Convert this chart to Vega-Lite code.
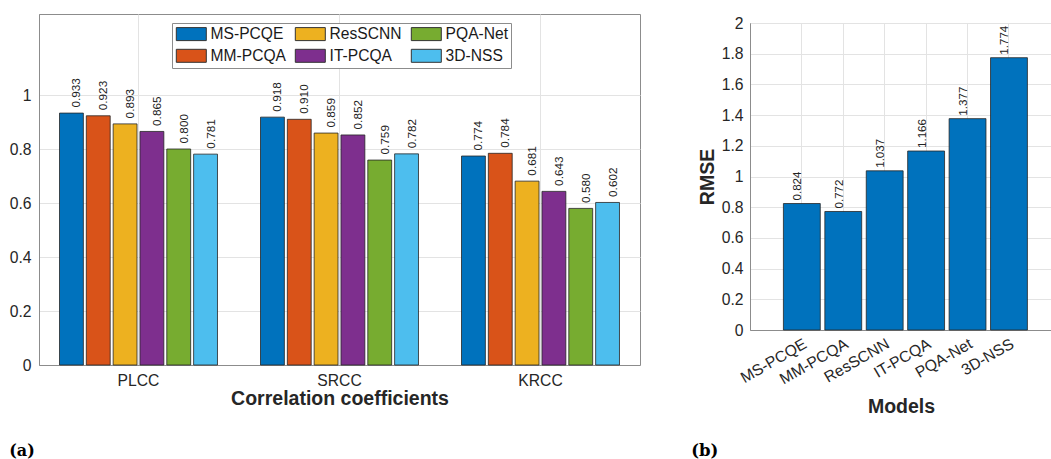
{
  "$schema": "https://vega.github.io/schema/vega-lite/v6.json",
  "background": "white",
  "padding": {"left": 8, "top": 13, "right": 0, "bottom": 0},
  "spacing": 49,
  "config": {
    "font": "Liberation Sans",
    "view": {"stroke": "#8c8c8c", "strokeWidth": 1},
    "axis": {
      "labelFont": "Liberation Sans",
      "labelFontSize": 15.7,
      "labelColor": "#262626",
      "titleFont": "Liberation Sans",
      "titleFontSize": 19.5,
      "titleFontWeight": "bold",
      "titleColor": "#262626",
      "gridColor": "#e3e3e3",
      "gridWidth": 1,
      "domainColor": "#8c8c8c",
      "tickColor": "#555555",
      "ticks": false
    }
  },
  "hconcat": [
    {
      "width": 601,
      "height": 351,
      "title": {"text": "(a)", "orient": "bottom", "anchor": "start", "frame": "bounds", "font": "DejaVu Serif", "fontSize": 16, "fontWeight": "bold", "color": "#000000", "offset": 35},
      "data": {
        "values": [
          {"metric": "PLCC", "model": "MS-PCQE", "value": 0.933},
          {"metric": "PLCC", "model": "MM-PCQA", "value": 0.923},
          {"metric": "PLCC", "model": "ResSCNN", "value": 0.893},
          {"metric": "PLCC", "model": "IT-PCQA", "value": 0.865},
          {"metric": "PLCC", "model": "PQA-Net", "value": 0.800},
          {"metric": "PLCC", "model": "3D-NSS", "value": 0.781},
          {"metric": "SRCC", "model": "MS-PCQE", "value": 0.918},
          {"metric": "SRCC", "model": "MM-PCQA", "value": 0.910},
          {"metric": "SRCC", "model": "ResSCNN", "value": 0.859},
          {"metric": "SRCC", "model": "IT-PCQA", "value": 0.852},
          {"metric": "SRCC", "model": "PQA-Net", "value": 0.759},
          {"metric": "SRCC", "model": "3D-NSS", "value": 0.782},
          {"metric": "KRCC", "model": "MS-PCQE", "value": 0.774},
          {"metric": "KRCC", "model": "MM-PCQA", "value": 0.784},
          {"metric": "KRCC", "model": "ResSCNN", "value": 0.681},
          {"metric": "KRCC", "model": "IT-PCQA", "value": 0.643},
          {"metric": "KRCC", "model": "PQA-Net", "value": 0.580},
          {"metric": "KRCC", "model": "3D-NSS", "value": 0.602}
        ]
      },
      "encoding": {
        "x": {
          "field": "metric", "type": "nominal", "sort": ["PLCC", "SRCC", "KRCC"],
          "scale": {"paddingInner": 0.214, "paddingOuter": 0.102},
          "axis": {"title": "Correlation coefficients", "labelAngle": 0, "grid": true, "bandPosition": 0.5, "labelPadding": 8, "titlePadding": 2}
        },
        "xOffset": {
          "field": "model", "type": "nominal",
          "sort": ["MS-PCQE", "MM-PCQA", "ResSCNN", "IT-PCQA", "PQA-Net", "3D-NSS"],
          "scale": {"paddingInner": 0.11, "paddingOuter": 0}
        },
        "y": {
          "field": "value", "type": "quantitative",
          "scale": {"domain": [0, 1.3], "nice": false, "zero": true},
          "axis": {"title": null, "values": [0, 0.2, 0.4, 0.6, 0.8, 1], "format": "~g", "grid": true, "labelPadding": 8}
        }
      },
      "layer": [
        {
          "mark": {"type": "bar", "stroke": "#262626", "strokeWidth": 0.8},
          "encoding": {
            "color": {
              "field": "model", "type": "nominal",
              "scale": {
                "domain": ["MS-PCQE", "MM-PCQA", "ResSCNN", "IT-PCQA", "PQA-Net", "3D-NSS"],
                "range": ["#0072BD", "#D95319", "#EDB120", "#7E2F8E", "#77AC30", "#4DBEEE"]
              },
              "legend": {
                "orient": "none", "legendX": 133, "legendY": 9,
                "columns": 3, "title": null,
                "symbolType": "M-1,-1H3.615V1H-1Z", "symbolSize": 169,
                "symbolStrokeColor": "#333333", "symbolStrokeWidth": 1, "symbolOpacity": 1,
                "labelFont": "Liberation Sans", "labelFontSize": 15.6, "labelColor": "#1a1a1a",
                "labelOffset": 20, "columnPadding": 7, "rowPadding": 4, "padding": 3,
                "strokeColor": "#8c8c8c", "fillColor": "white"
              }
            }
          }
        },
        {
          "mark": {"type": "text", "angle": 270, "align": "left", "baseline": "middle", "dx": 5.5, "dy": 5, "fontSize": 11.8, "color": "#222222", "font": "Liberation Sans"},
          "encoding": {"text": {"field": "value", "type": "quantitative", "format": ".3f"}}
        }
      ]
    },
    {
      "spacing": -1,
      "vconcat": [
        {
          "width": 1,
          "height": 1,
          "view": {"stroke": null},
          "data": {"values": []},
          "mark": "point",
          "encoding": {}
        },
        {
          "width": 302,
          "height": 307,
          "title": {"text": "(b)", "orient": "bottom", "anchor": "start", "frame": "bounds", "font": "DejaVu Serif", "fontSize": 16.5, "fontWeight": "bold", "color": "#000000", "offset": 27, "dx": -6},
          "data": {
            "values": [
              {"model": "MS-PCQE", "rmse": 0.824},
              {"model": "MM-PCQA", "rmse": 0.772},
              {"model": "ResSCNN", "rmse": 1.037},
              {"model": "IT-PCQA", "rmse": 1.166},
              {"model": "PQA-Net", "rmse": 1.377},
              {"model": "3D-NSS", "rmse": 1.774}
            ]
          },
          "encoding": {
            "x": {
              "field": "model", "type": "nominal",
              "sort": ["MS-PCQE", "MM-PCQA", "ResSCNN", "IT-PCQA", "PQA-Net", "3D-NSS"],
              "scale": {"paddingInner": 0.11, "paddingOuter": 0.7, "align": 0.576},
              "axis": {"title": "Models", "labelAngle": -30, "labelAlign": "right", "labelBaseline": "top", "grid": true, "bandPosition": 0.5, "labelPadding": 6, "titlePadding": 11}
            },
            "y": {
              "field": "rmse", "type": "quantitative",
              "scale": {"domain": [0, 2], "nice": false},
              "axis": {"title": "RMSE", "values": [0, 0.2, 0.4, 0.6, 0.8, 1, 1.2, 1.4, 1.6, 1.8, 2], "format": "~g", "grid": true, "labelPadding": 7, "titlePadding": 4}
            }
          },
          "layer": [
            {"mark": {"type": "bar", "fill": "#0072BD", "stroke": "#262626", "strokeWidth": 0.8}},
            {
              "mark": {"type": "text", "angle": 270, "align": "left", "baseline": "middle", "dx": 3, "dy": -3.5, "fontSize": 11.6, "color": "#222222", "font": "Liberation Sans"},
              "encoding": {"text": {"field": "rmse", "type": "quantitative", "format": ".3f"}}
            }
          ]
        }
      ]
    }
  ]
}
